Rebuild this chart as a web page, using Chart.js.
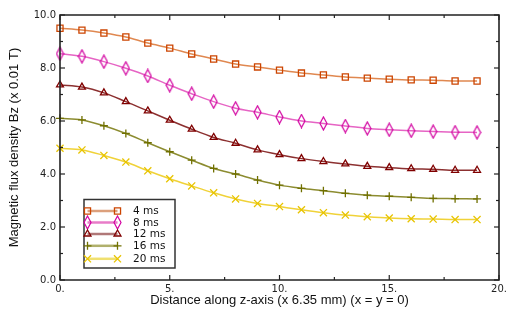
<!DOCTYPE html>
<html>
<head>
<meta charset="utf-8">
<script src="https://cdn.jsdelivr.net/npm/chart.js@4/dist/chart.umd.min.js"></script>
<style>
html,body{margin:0;padding:0;background:#fff;}
canvas{display:block;}
</style>
</head>
<body>
<canvas id="c" width="521" height="323"></canvas>
<script>
// ---- data ----
const distances = [0,1,2,3,4,5,6,7,8,9,10,11,12,13,14,15,16,17,18,19];
const seriesNames = ["4 ms","8 ms","12 ms","16 ms","20 ms"];
const bz4  = [9.50,9.43,9.32,9.17,8.94,8.75,8.53,8.34,8.15,8.04,7.92,7.81,7.74,7.66,7.62,7.58,7.55,7.54,7.51,7.51];
const bz8  = [8.54,8.44,8.24,7.99,7.70,7.35,7.03,6.73,6.48,6.33,6.15,6.00,5.91,5.81,5.72,5.67,5.63,5.60,5.58,5.57];
const bz12 = [7.36,7.28,7.06,6.73,6.38,6.03,5.69,5.38,5.16,4.91,4.73,4.58,4.47,4.38,4.29,4.24,4.20,4.18,4.14,4.14];
const bz16 = [6.10,6.04,5.82,5.53,5.18,4.84,4.52,4.21,4.00,3.77,3.58,3.46,3.37,3.27,3.20,3.16,3.12,3.08,3.07,3.06];
const bz20 = [4.97,4.91,4.70,4.45,4.12,3.82,3.55,3.29,3.06,2.89,2.77,2.65,2.54,2.45,2.39,2.34,2.31,2.30,2.28,2.28];
const xTicks = [0,5,10,15,20];
const yTicks = [0,2,4,6,8,10];
const xMinorTicks = [2.5,7.5,12.5,17.5];
const yMinorTicks = [1,3,5,7,9];

// ---- styles ----
const lineColors   = ['#e08850','#e664c4','#8c3030','#8c8c30','#f0d238'];
const legendLines  = ['#dca07c','#e87cc8','#b07878','#b0b06c','#f0e070'];
const markerColors = ['#cc4400','#d200a0','#800000','#707000','#e8c400'];

function diamondCanvas(color){
  const c = document.createElement('canvas');
  c.width = 9; c.height = 15;
  const g = c.getContext('2d');
  g.strokeStyle = color; g.lineWidth = 1.2;
  g.beginPath();
  g.moveTo(4.5,1); g.lineTo(8,7.5); g.lineTo(4.5,14); g.lineTo(1,7.5); g.closePath();
  g.stroke();
  return c;
}
const styles = ['rect', diamondCanvas(markerColors[1]), 'triangle', 'cross', 'crossRot'];
const radii  = [4.3, 5, 4, 4, 5];
const allSeries = [bz4, bz8, bz12, bz16, bz20];

const datasets = allSeries.map((s, i) => ({
  label: seriesNames[i],
  data: distances.map((d, k) => ({x: d, y: s[k]})),
  borderColor: lineColors[i],
  borderWidth: 1.5,
  backgroundColor: 'rgba(0,0,0,0)',
  pointStyle: styles[i],
  pointRadius: radii[i],
  pointBorderColor: markerColors[i],
  pointBackgroundColor: 'rgba(0,0,0,0)',
  pointBorderWidth: 1.3,
  cubicInterpolationMode: 'monotone',
  fill: false,
  clip: false
}));

function drawFrame(chart){
  const ctx = chart.ctx, a = chart.chartArea;
  const xs = chart.scales.x, ys = chart.scales.y;
  ctx.save();
  ctx.strokeStyle = '#222222';
  ctx.lineWidth = 1.2;
  const tick = (x1, y1, x2, y2) => { ctx.beginPath(); ctx.moveTo(x1, y1); ctx.lineTo(x2, y2); ctx.stroke(); };
  xTicks.forEach(v => { const p = xs.getPixelForValue(v); tick(p, a.bottom, p, a.bottom - 5); tick(p, a.top, p, a.top + 5); });
  xMinorTicks.forEach(v => { const p = xs.getPixelForValue(v); tick(p, a.bottom, p, a.bottom - 3); tick(p, a.top, p, a.top + 3); });
  yTicks.forEach(v => { const p = ys.getPixelForValue(v); tick(a.left, p, a.left + 5, p); tick(a.right, p, a.right - 5, p); });
  yMinorTicks.forEach(v => { const p = ys.getPixelForValue(v); tick(a.left, p, a.left + 3, p); tick(a.right, p, a.right - 3, p); });
  ctx.lineWidth = 1.6;
  ctx.beginPath();
  ctx.rect(a.left, a.top, a.right - a.left, a.bottom - a.top);
  ctx.stroke();
  ctx.restore();
}

function drawLegend(chart){
  const ctx = chart.ctx;
  ctx.save();
  ctx.fillStyle = '#ffffff';
  ctx.fillRect(84, 199.5, 91, 68.5);
  ctx.strokeStyle = '#333333';
  ctx.lineWidth = 1.5;
  ctx.strokeRect(84, 199.5, 91, 68.5);
  const rows = [211, 222.5, 234, 245.8, 258.8];
  chart.data.datasets.forEach((ds, i) => {
    const y = rows[i];
    ctx.strokeStyle = legendLines[i];
    ctx.lineWidth = 2.5;
    ctx.beginPath(); ctx.moveTo(87.5, y); ctx.lineTo(117.5, y); ctx.stroke();
    const opts = {pointStyle: ds.pointStyle, radius: ds.pointRadius, rotation: 0, borderWidth: ds.pointBorderWidth};
    ctx.strokeStyle = ds.pointBorderColor;
    ctx.fillStyle = 'rgba(0,0,0,0)';
    ctx.lineWidth = ds.pointBorderWidth;
    Chart.helpers.drawPoint(ctx, opts, 87.5, y);
    Chart.helpers.drawPoint(ctx, opts, 117.5, y);
    ctx.fillStyle = '#111111';
    ctx.font = '10.5px "DejaVu Sans"';
    ctx.textBaseline = 'middle';
    ctx.textAlign = 'left';
    ctx.fillText(ds.label, 133, y + 0.5);
  });
  ctx.restore();
}

const overlay = {
  id: 'overlay',
  afterDraw(chart){
    try { drawFrame(chart); } catch (e) {
      chart.ctx.fillStyle = 'red'; chart.ctx.font = '10px sans-serif'; chart.ctx.fillText('frame: ' + e.message, 70, 40);
    }
    try { drawLegend(chart); } catch (e) {
      chart.ctx.fillStyle = 'red'; chart.ctx.font = '10px sans-serif'; chart.ctx.fillText('legend: ' + e.message, 70, 55);
    }
  }
};

new Chart(document.getElementById('c'), {
  type: 'line',
  data: { datasets },
  options: {
    responsive: false,
    animation: false,
    layout: { padding: { top: 15, right: 22, left: 0, bottom: 0 } },
    plugins: { legend: { display: false }, tooltip: { enabled: false } },
    scales: {
      x: {
        type: 'linear', min: 0, max: 20,
        afterFit(s){ s.height = 43; },
        afterBuildTicks(s){ s.ticks = xTicks.map(v => ({value: v})); },
        grid: { display: false, drawTicks: false },
        border: { display: false },
        ticks: { color: '#222', padding: 3, maxRotation: 0, font: { family: 'DejaVu Sans', size: 10 },
                 callback: v => v + '.' },
        title: { display: true, text: 'Distance along z-axis (x 6.35 mm) (x = y = 0)', color: '#111',
                 font: { family: 'Liberation Sans', size: 13 }, padding: { top: 0, bottom: 15 } }
      },
      y: {
        type: 'linear', min: 0, max: 10,
        afterFit(s){ s.width = 60; },
        afterBuildTicks(s){ s.ticks = yTicks.map(v => ({value: v})); },
        grid: { display: false, drawTicks: false },
        border: { display: false },
        ticks: { color: '#222', padding: 4, font: { family: 'DejaVu Sans', size: 10 },
                 callback: v => Number(v).toFixed(1) },
        title: { display: true, text: 'Magnetic flux density Bz (x 0.01 T)', color: '#111',
                 font: { family: 'Liberation Sans', size: 13 }, padding: { top: 7, bottom: 0 } }
      }
    }
  },
  plugins: [overlay]
});
</script>
</body>
</html>
